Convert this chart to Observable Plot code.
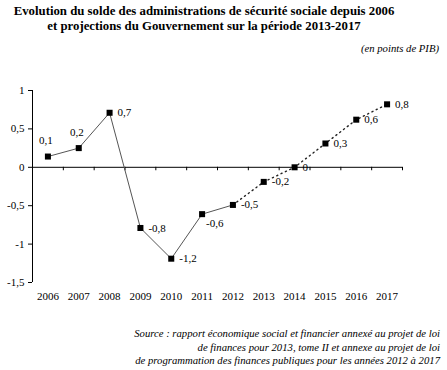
<!DOCTYPE html>
<html>
<head>
<meta charset="utf-8">
<script src="https://cdn.jsdelivr.net/npm/d3@7"></script>
<script src="https://cdn.jsdelivr.net/npm/@observablehq/plot@0.6"></script>
<style>
  html, body { margin: 0; padding: 0; background: white; }
  #wrap { position: relative; width: 447px; height: 370px; overflow: hidden; font-family: "Liberation Serif", "Times New Roman", serif; color: black; }
  #title { position: absolute; left: 0; top: 4px; width: 408px; text-align: center; font-weight: bold; font-size: 12.8px; line-height: 15px; white-space: nowrap; }
  #unit { position: absolute; right: 8px; top: 42px; font-style: italic; font-size: 10.7px; }
  #chart { position: absolute; left: 0; top: 60px; }
  #source { position: absolute; right: 7px; top: 327px; text-align: right; font-style: italic; font-size: 10.7px; line-height: 13.5px; white-space: nowrap; }
</style>
</head>
<body>
<div id="wrap">
  <div id="title">Evolution du solde des administrations de sécurité sociale depuis 2006<br>et projections du Gouvernement sur la période 2013-2017</div>
  <div id="unit">(en points de PIB)</div>
  <div id="chart"></div>
  <div id="source">Source : rapport économique social et financier annexé au projet de loi<br>de finances pour 2013, tome II et annexe au projet de loi<br>de programmation des finances publiques pour les années 2012 à 2017</div>
</div>
<script>
const years = [2006, 2007, 2008, 2009, 2010, 2011, 2012, 2013, 2014, 2015, 2016, 2017];
const values = [0.14, 0.25, 0.71, -0.79, -1.19, -0.61, -0.49, -0.19, 0, 0.31, 0.62, 0.82];
const valueLabels = ["0,1", "0,2", "0,7", "-0,8", "-1,2", "-0,6", "-0,5", "-0,2", "0", "0,3", "0,6", "0,8"];
const yTicks = [-1.5, -1, -0.5, 0, 0.5, 1];
const lastObserved = 2012;

const data = years.map((year, i) => ({year, value: values[i], label: valueLabels[i], i}));
const observed = data.filter(d => d.year <= lastObserved);
const projected = data.filter(d => d.year >= lastObserved);
const bounds = [years[0] - 0.5, ...years.map(y => y + 0.5)];
const fr = d => String(d).replace(".", ",");

const chart = Plot.plot({
  width: 447,
  height: 250,
  marginLeft: 32,
  marginRight: 45,
  marginTop: 30,
  marginBottom: 28,
  style: {fontFamily: "Liberation Serif", fontSize: "11px", background: "white", color: "black"},
  x: {domain: [years[0] - 0.5, years[years.length - 1] + 0.5]},
  y: {domain: [yTicks[0], yTicks[yTicks.length - 1]]},
  marks: [
    Plot.ruleX([bounds[0]], {y1: yTicks[0], y2: yTicks[yTicks.length - 1], stroke: "black"}),
    Plot.ruleY([0], {stroke: "black"}),
    Plot.ruleX(bounds, {x: d => d, y1: 0, y2: -0.045, stroke: "black"}),
    Plot.axisY(yTicks, {tickSize: 4, tickPadding: 4, tickFormat: fr, label: null}),
    Plot.axisX(years, {tickSize: 0, tickPadding: 10, tickFormat: d => String(d), label: null}),
    Plot.line(observed, {x: "year", y: "value", stroke: "#555", strokeWidth: 1}),
    Plot.line(projected, {x: "year", y: "value", stroke: "#222", strokeWidth: 1.4, strokeDasharray: "1.2,3.6"}),
    Plot.dot(data, {x: "year", y: "value", symbol: "square", r: 3.4, fill: "black", stroke: "none"}),
    Plot.text(data.filter(d => d.i < 2), {x: "year", y: "value", text: "label", dx: -2, dy: -16, textAnchor: "middle"}),
    Plot.text(data.filter(d => d.i >= 2 && d.i !== 5), {x: "year", y: "value", text: "label", dx: 8, textAnchor: "start"}),
    Plot.text(data.filter(d => d.i === 5), {x: "year", y: "value", text: "label", dx: 4, dy: 9, textAnchor: "start"})
  ]
});
document.getElementById("chart").appendChild(chart);
</script>
</body>
</html>
